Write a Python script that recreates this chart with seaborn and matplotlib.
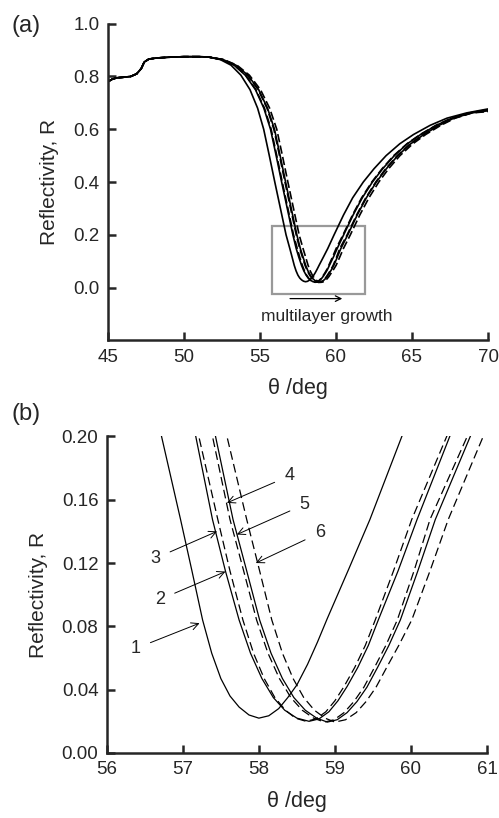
import matplotlib
matplotlib.use("Agg")
from matplotlib import pyplot as plt
from matplotlib.patches import Rectangle
import pandas as pd
import seaborn as sns

# shared flat part of the curves (theta in deg, reflectivity)
theta_plateau = [45.0, 45.3, 45.6, 46.0, 46.5, 46.9, 47.2, 47.4, 47.7, 48.2, 49.0, 50.0, 51.0, 51.6]
refl_plateau = [0.78, 0.79, 0.795, 0.797, 0.80, 0.81, 0.83, 0.855, 0.866, 0.870, 0.873, 0.875, 0.875, 0.874]

# dip of each curve
theta_1 = [52.4, 53.1, 53.75, 54.35, 54.85, 55.25, 55.62, 55.98, 56.35, 56.72,
           56.97, 57.12, 57.26, 57.38, 57.5, 57.62, 57.74, 57.87, 58.0,
           58.13, 58.26, 58.38, 58.5, 58.64, 58.77, 58.9, 59.18, 59.46, 59.88,
           60.5, 61.1, 61.8, 62.5, 63.3, 64.2, 65.1, 66.2, 67.3, 68.6, 70.0]
refl_1 = [0.864, 0.843, 0.805, 0.75, 0.68, 0.60, 0.50, 0.40, 0.30, 0.20,
          0.1475, 0.115, 0.084, 0.063, 0.047, 0.036, 0.029, 0.024, 0.022,
          0.0235, 0.028, 0.035, 0.043, 0.056, 0.07, 0.085, 0.116, 0.1475, 0.20,
          0.275, 0.34, 0.40, 0.45, 0.50, 0.545, 0.58, 0.615, 0.642, 0.662, 0.677]

theta_2 = [52.52, 53.32, 54.07, 54.74, 55.30, 55.74, 56.11, 56.47, 56.84, 57.21,
           57.46, 57.62, 57.79, 57.93, 58.07, 58.21, 58.35, 58.48, 58.62,
           58.75, 58.88, 59.0, 59.12, 59.26, 59.40, 59.53, 59.77, 60.01, 60.47,
           61.09, 61.69, 62.36, 63.03, 63.80, 64.67, 65.54, 66.58, 67.60, 68.81, 70.0]
refl_2 = [0.864, 0.843, 0.805, 0.75, 0.68, 0.60, 0.50, 0.40, 0.30, 0.20,
          0.1475, 0.115, 0.084, 0.063, 0.047, 0.035, 0.027, 0.022, 0.020,
          0.0215, 0.026, 0.033, 0.042, 0.054, 0.068, 0.084, 0.115, 0.1475, 0.20,
          0.275, 0.34, 0.40, 0.45, 0.50, 0.545, 0.58, 0.615, 0.642, 0.662, 0.674]

theta_3 = [52.51, 53.30, 54.04, 54.71, 55.26, 55.70, 56.07, 56.43, 56.80, 57.17,
           57.39, 57.56, 57.74, 57.89, 58.04, 58.19, 58.34, 58.50, 58.66,
           58.79, 58.92, 59.04, 59.16, 59.30, 59.44, 59.57, 59.83, 60.08, 60.51,
           61.13, 61.73, 62.40, 63.07, 63.84, 64.70, 65.57, 66.61, 67.62, 68.82, 70.0]
refl_3 = [0.864, 0.843, 0.805, 0.75, 0.68, 0.60, 0.50, 0.40, 0.30, 0.20,
          0.1475, 0.115, 0.084, 0.063, 0.047, 0.035, 0.027, 0.022, 0.020,
          0.0215, 0.026, 0.033, 0.042, 0.054, 0.068, 0.084, 0.115, 0.1475, 0.20,
          0.275, 0.34, 0.40, 0.45, 0.50, 0.545, 0.58, 0.615, 0.642, 0.662, 0.674]

theta_4 = [52.57, 53.40, 54.19, 54.89, 55.47, 55.92, 56.29, 56.65, 57.02, 57.39,
           57.62, 57.80, 57.97, 58.12, 58.27, 58.42, 58.57, 58.72, 58.86,
           58.99, 59.12, 59.25, 59.38, 59.52, 59.67, 59.82, 60.04, 60.25, 60.74,
           61.36, 61.96, 62.62, 63.27, 64.03, 64.89, 65.75, 66.76, 67.73, 68.90, 70.0]
refl_4 = [0.864, 0.843, 0.805, 0.75, 0.68, 0.60, 0.50, 0.40, 0.30, 0.20,
          0.1475, 0.115, 0.084, 0.063, 0.047, 0.035, 0.027, 0.022, 0.0195,
          0.021, 0.0255, 0.0325, 0.0415, 0.054, 0.068, 0.084, 0.115, 0.1475, 0.20,
          0.275, 0.34, 0.40, 0.45, 0.50, 0.545, 0.58, 0.615, 0.642, 0.662, 0.670]

theta_5 = [52.58, 53.42, 54.21, 54.92, 55.50, 55.96, 56.33, 56.69, 57.06, 57.43,
           57.66, 57.84, 58.01, 58.16, 58.31, 58.46, 58.61, 58.76, 58.90,
           59.03, 59.16, 59.29, 59.42, 59.56, 59.71, 59.86, 60.09, 60.32, 60.78,
           61.40, 62.00, 62.66, 63.31, 64.07, 64.92, 65.78, 66.79, 67.75, 68.92, 70.0]
refl_5 = [0.864, 0.843, 0.805, 0.75, 0.68, 0.60, 0.50, 0.40, 0.30, 0.20,
          0.1475, 0.115, 0.084, 0.063, 0.047, 0.035, 0.027, 0.022, 0.0195,
          0.021, 0.0255, 0.0325, 0.0415, 0.054, 0.068, 0.084, 0.115, 0.1475, 0.20,
          0.275, 0.34, 0.40, 0.45, 0.50, 0.545, 0.58, 0.615, 0.642, 0.662, 0.670]

theta_6 = [52.62, 53.49, 54.31, 55.04, 55.64, 56.11, 56.48, 56.84, 57.21, 57.58,
           57.84, 58.01, 58.17, 58.31, 58.45, 58.59, 58.73, 58.87, 59.0,
           59.14, 59.28, 59.41, 59.54, 59.68, 59.84, 60.01, 60.25, 60.49, 60.95,
           61.57, 62.17, 62.82, 63.46, 64.21, 65.06, 65.90, 66.90, 67.84, 68.97, 70.0]
refl_6 = [0.864, 0.843, 0.805, 0.75, 0.68, 0.60, 0.50, 0.40, 0.30, 0.20,
          0.1475, 0.115, 0.084, 0.063, 0.047, 0.035, 0.027, 0.022, 0.0195,
          0.021, 0.0255, 0.0325, 0.0415, 0.054, 0.068, 0.084, 0.115, 0.1475, 0.20,
          0.275, 0.34, 0.40, 0.45, 0.50, 0.545, 0.58, 0.615, 0.642, 0.662, 0.667]

curve_names = ["1", "2", "3", "4", "5", "6"]
curve_dashed = [False, True, False, True, False, True]

# labels in panel (b): text position and arrow tip (theta, R)
label_text_xy = [(56.38, 0.066), (56.70, 0.097), (56.64, 0.123), (58.40, 0.175), (58.60, 0.157), (58.80, 0.139)]
label_tip_xy = [(57.22, 0.082), (57.56, 0.1146), (57.45, 0.140), (57.58, 0.158), (57.71, 0.138), (57.96, 0.120)]

rows = []
for name, th, rf in zip(curve_names,
                        [theta_1, theta_2, theta_3, theta_4, theta_5, theta_6],
                        [refl_1, refl_2, refl_3, refl_4, refl_5, refl_6]):
    for t, r in zip(theta_plateau + th, refl_plateau + rf):
        rows.append((name, t, r))
df = pd.DataFrame(rows, columns=["curve", "theta", "R"])

sns.set_style("ticks")
plt.rcParams["font.family"] = ["Liberation Sans", "DejaVu Sans"]
plt.rcParams["axes.linewidth"] = 1.8

fig = plt.figure(figsize=(4.99, 8.18), dpi=100)
ax_a = fig.add_axes([0.216, 0.584, 0.762, 0.387])
ax_b = fig.add_axes([0.214, 0.0795, 0.762, 0.387])


def draw_curves(ax, lw, dash):
    for name, dashed in zip(curve_names, curve_dashed):
        sub = df[df["curve"] == name]
        line = sns.lineplot(data=sub, x="theta", y="R", ax=ax, color="black", lw=lw,
                            estimator=None, sort=False)
        if dashed:
            line.lines[-1].set_dashes(dash)


def style_axis(ax):
    sns.despine(ax=ax)
    ax.tick_params(direction="in", length=6, width=1.8, labelsize=13.5, pad=6)
    ax.set_xlabel("θ /deg", fontsize=15.5, labelpad=9)
    ax.set_ylabel("Reflectivity, R", fontsize=15, labelpad=10)


# panel (a)
draw_curves(ax_a, 1.2, (5, 2))
ax_a.set_xlim(45, 70)
ax_a.set_ylim(-0.2, 1.0)
ax_a.set_xticks([45, 50, 55, 60, 65, 70])
ax_a.set_yticks([0.0, 0.2, 0.4, 0.6, 0.8, 1.0])
ax_a.set_yticklabels(["0.0", "0.2", "0.4", "0.6", "0.8", "1.0"])
style_axis(ax_a)
ax_a.add_patch(Rectangle((55.8, -0.023), 6.1, 0.257, fill=False, edgecolor="#999999", lw=1.6))
ax_a.annotate("", xy=(60.6, -0.042), xytext=(56.8, -0.042),
              arrowprops=dict(arrowstyle="->", color="black", lw=0.9))
ax_a.text(59.4, -0.108, "multilayer growth", ha="center", va="center", fontsize=12.5)
fig.text(0.024, 0.982, "(a)", fontsize=17, va="top")

# panel (b)
draw_curves(ax_b, 0.9, (7, 3.5))
ax_b.set_xlim(56, 61)
ax_b.set_ylim(0, 0.2)
ax_b.set_xticks([56, 57, 58, 59, 60, 61])
ax_b.set_yticks([0.0, 0.04, 0.08, 0.12, 0.16, 0.20])
ax_b.set_yticklabels(["0.00", "0.04", "0.08", "0.12", "0.16", "0.20"])
style_axis(ax_b)
for name, txy, tip in zip(curve_names, label_text_xy, label_tip_xy):
    ax_b.annotate(name, xy=tip, xytext=txy, ha="center", va="center", fontsize=13,
                  arrowprops=dict(arrowstyle="->", color="black", lw=0.7, shrinkA=5, shrinkB=0))
fig.text(0.024, 0.507, "(b)", fontsize=17, va="top")

fig.savefig("out.png", dpi=100)
